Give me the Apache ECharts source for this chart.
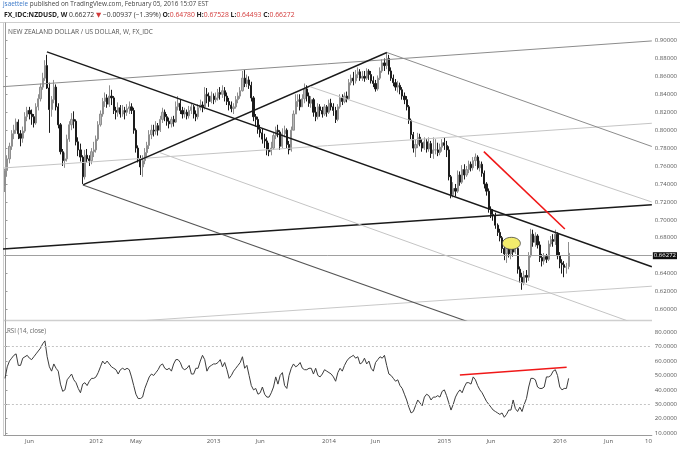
<!DOCTYPE html>
<html><head><meta charset="utf-8">
<script src="https://cdn.jsdelivr.net/npm/echarts@6/dist/echarts.min.js"></script>
<style>html,body{margin:0;padding:0;background:#fff}#c{width:680px;height:449px}</style>
</head><body><div id="c"></div>
<script>
// ---------- data ----------
const firstWeek = '2011-03-21';   // first weekly bar
const totalWeeks = 292;           // bars + empty future space on the axis
const firstOpen = 0.737;
const lastOpen = 0.6478;

const closes = [
0.755,0.768,0.782,0.796,0.800,0.809,0.796,0.791,0.799,0.815,
0.822,0.818,0.815,0.808,0.826,0.835,0.848,0.858,0.872,0.847,
0.823,0.834,0.848,0.826,0.806,0.776,0.766,0.768,0.790,0.806,
0.812,0.810,0.787,0.778,0.770,0.748,0.772,0.768,0.766,0.776,
0.778,0.790,0.806,0.818,0.832,0.836,0.829,0.838,0.836,0.822,
0.820,0.825,0.818,0.822,0.820,0.824,0.826,0.822,0.800,0.780,
0.768,0.759,0.766,0.775,0.783,0.795,0.800,0.799,0.805,0.800,
0.812,0.820,0.815,0.810,0.807,0.812,0.809,0.826,0.830,0.822,
0.818,0.820,0.816,0.822,0.826,0.818,0.815,0.825,0.828,0.826,
0.840,0.838,0.832,0.838,0.834,0.836,0.842,0.840,0.844,0.838,
0.832,0.828,0.824,0.826,0.834,0.838,0.844,0.858,0.852,0.856,
0.850,0.836,0.815,0.812,0.801,0.797,0.790,0.788,0.778,0.776,
0.780,0.794,0.800,0.798,0.782,0.796,0.800,0.784,0.778,0.800,
0.818,0.832,0.834,0.826,0.835,0.846,0.838,0.830,0.834,0.820,
0.815,0.826,0.822,0.818,0.826,0.820,0.830,0.826,0.822,0.812,
0.826,0.836,0.832,0.838,0.835,0.853,0.858,0.855,0.862,0.865,
0.858,0.860,0.858,0.866,0.862,0.855,0.852,0.846,0.858,0.866,
0.875,0.872,0.880,0.866,0.858,0.853,0.848,0.850,0.845,0.838,
0.834,0.826,0.811,0.795,0.780,0.784,0.792,0.786,0.780,0.787,
0.779,0.785,0.774,0.778,0.778,0.775,0.781,0.786,0.783,0.778,
0.748,0.728,0.735,0.732,0.750,0.742,0.756,0.750,0.756,0.762,
0.758,0.766,0.770,0.758,0.762,0.752,0.740,0.732,0.712,0.706,
0.705,0.694,0.686,0.680,0.668,0.662,0.668,0.662,0.670,0.664,
0.668,0.645,0.636,0.630,0.638,0.636,0.660,0.684,0.675,0.682,
0.672,0.658,0.654,0.659,0.656,0.673,0.678,0.676,0.684,0.660,
0.652,0.650,0.647,0.648,0.66272];

const highs = [
0.757,0.772,0.786,0.800,0.806,0.813,0.812,0.800,0.804,0.820,
0.826,0.826,0.823,0.818,0.830,0.840,0.852,0.864,0.878,0.884,
0.853,0.838,0.856,0.851,0.830,0.808,0.779,0.775,0.795,0.810,
0.819,0.821,0.812,0.792,0.785,0.772,0.778,0.779,0.772,0.780,
0.787,0.794,0.810,0.822,0.836,0.842,0.840,0.850,0.845,0.838,
0.826,0.831,0.828,0.828,0.826,0.829,0.832,0.830,0.825,0.802,
0.783,0.772,0.772,0.780,0.787,0.800,0.806,0.806,0.810,0.808,
0.816,0.825,0.823,0.818,0.814,0.815,0.816,0.832,0.838,0.834,
0.826,0.825,0.823,0.827,0.830,0.828,0.822,0.829,0.834,0.832,
0.848,0.847,0.842,0.843,0.841,0.842,0.846,0.848,0.850,0.848,
0.842,0.836,0.832,0.830,0.838,0.842,0.848,0.866,0.867,0.862,
0.860,0.854,0.838,0.818,0.815,0.806,0.802,0.796,0.792,0.786,
0.787,0.798,0.804,0.806,0.800,0.802,0.805,0.802,0.788,0.804,
0.822,0.840,0.840,0.840,0.840,0.852,0.850,0.842,0.838,0.836,
0.826,0.830,0.829,0.826,0.829,0.828,0.834,0.835,0.830,0.826,
0.829,0.840,0.840,0.842,0.843,0.857,0.862,0.865,0.867,0.870,
0.868,0.866,0.866,0.869,0.868,0.866,0.860,0.856,0.861,0.870,
0.879,0.880,0.886,0.884,0.870,0.862,0.857,0.855,0.853,0.848,
0.842,0.838,0.828,0.813,0.798,0.790,0.797,0.796,0.790,0.792,
0.790,0.792,0.788,0.792,0.790,0.786,0.785,0.790,0.792,0.788,
0.782,0.750,0.742,0.740,0.755,0.754,0.761,0.762,0.760,0.766,
0.765,0.770,0.774,0.772,0.766,0.765,0.755,0.742,0.735,0.715,
0.712,0.708,0.696,0.690,0.682,0.676,0.674,0.672,0.674,0.672,
0.673,0.670,0.648,0.641,0.643,0.644,0.664,0.690,0.689,0.686,
0.684,0.676,0.662,0.663,0.662,0.677,0.682,0.684,0.689,0.686,
0.664,0.656,0.654,0.652,0.67528];

const lows = [
0.731,0.748,0.763,0.778,0.790,0.796,0.790,0.782,0.786,0.797,
0.810,0.812,0.806,0.803,0.806,0.822,0.832,0.845,0.855,0.846,
0.797,0.815,0.830,0.822,0.802,0.773,0.760,0.758,0.765,0.787,
0.800,0.802,0.783,0.771,0.765,0.740,0.745,0.764,0.760,0.762,
0.770,0.775,0.788,0.804,0.815,0.826,0.825,0.826,0.828,0.818,
0.812,0.815,0.814,0.815,0.812,0.816,0.818,0.818,0.796,0.775,
0.764,0.750,0.748,0.762,0.770,0.779,0.790,0.793,0.795,0.794,
0.798,0.808,0.810,0.805,0.802,0.803,0.804,0.808,0.822,0.818,
0.813,0.814,0.812,0.813,0.818,0.813,0.810,0.812,0.822,0.820,
0.823,0.830,0.826,0.830,0.829,0.831,0.833,0.834,0.836,0.832,
0.828,0.822,0.820,0.818,0.824,0.830,0.835,0.843,0.848,0.848,
0.846,0.832,0.810,0.804,0.796,0.792,0.785,0.780,0.772,0.771,
0.772,0.778,0.790,0.792,0.778,0.780,0.792,0.780,0.773,0.776,
0.800,0.818,0.826,0.822,0.826,0.830,0.832,0.826,0.825,0.815,
0.810,0.812,0.815,0.814,0.816,0.815,0.818,0.822,0.816,0.808,
0.810,0.824,0.828,0.830,0.831,0.834,0.850,0.850,0.852,0.858,
0.855,0.855,0.854,0.856,0.856,0.852,0.848,0.843,0.844,0.856,
0.864,0.866,0.868,0.862,0.855,0.849,0.844,0.842,0.840,0.834,
0.829,0.822,0.807,0.790,0.775,0.770,0.780,0.782,0.776,0.778,
0.775,0.776,0.769,0.768,0.773,0.771,0.772,0.776,0.778,0.770,
0.744,0.724,0.725,0.726,0.730,0.738,0.740,0.745,0.748,0.752,
0.754,0.755,0.760,0.756,0.754,0.748,0.735,0.727,0.708,0.702,
0.699,0.690,0.682,0.676,0.663,0.655,0.652,0.658,0.656,0.659,
0.662,0.640,0.630,0.622,0.627,0.630,0.632,0.658,0.670,0.670,
0.668,0.653,0.648,0.650,0.652,0.654,0.670,0.670,0.672,0.656,
0.646,0.640,0.636,0.640,0.64493];

const rsi = [
48,56,60,62,64,65,57,57,62,63,
64,62,61,63,65,67,69,72,74,63,
56,53,58,55,53,44,39,40,47,49,
51,47,45,41,38,44,45,43,46,48,
48,49,52,56,60,58,60,58,56,55,
54,51,54,55,54,55,54,49,43,37,
34,34,35,41,45,49,51,50,52,54,
57,58,55,54,55,53,58,61,61,59,
55,54,55,57,51,51,55,55,60,64,
61,53,56,57,58,58,59,61,56,59,
54,48,50,53,55,57,59,63,55,57,
50,43,40,41,37,38,42,37,35,35,
38,42,49,44,50,52,43,41,50,55,
58,56,57,59,55,54,54,55,55,51,
55,50,49,51,54,53,52,51,49,46,
52,55,53,57,60,62,63,64,62,63,
58,59,62,58,60,55,53,59,61,63,
62,64,57,51,50,48,46,47,43,41,
37,33,28,24,25,29,33,31,29,35,
37,36,33,35,35,36,35,39,40,36,
31,26,30,35,38,40,38,42,45,45,
44,49,47,43,40,38,35,32,30,28,
26,25,24,23,24,21,23,26,26,33,
27,25,28,25,30,34,42,48,48,47,
42,41,41,42,49,49,50,53,54,50,
42,40,41,41,48];

const xTickDates = ['2011-06-06','2012-01-02','2012-05-07','2013-01-07','2013-06-03','2014-01-06','2014-06-02','2015-01-05','2015-06-01','2016-01-04','2016-06-06','2016-10-10'];
const xTickTexts = ['Jun','2012','May','2013','Jun','2014','Jun','2015','Jun','2016','Jun','10'];
const priceTicks = [0.60,0.62,0.64,0.66,0.68,0.70,0.72,0.74,0.76,0.78,0.80,0.82,0.84,0.86,0.88,0.90];
const rsiTicks = [10,20,30,40,50,60,70,80];
const rsiLevels = [70,30];

// drawn trend lines: [weekIndex, price]
const chanTop    = [[-0.9,0.8485],[291.5,0.8995]];
const chanMid    = [[-0.9,0.7578],[291.5,0.8077]];
const chanLow    = [[-0.9,0.6675],[291.5,0.7168]];
const chanBottom = [[-0.9,0.5770],[291.5,0.6260]];
const fall2011   = [[18.9,0.8872],[291.5,0.6477]];
const rise2011   = [[35.1,0.7389],[172.1,0.8866]];
const fall2011b  = [[35.1,0.7389],[291.5,0.5136]];
const fall2014   = [[172.1,0.8866],[291.5,0.7818]];
const fork2012   = [[69.8,0.7749],[291.5,0.5776]];
const fork2013   = [[137.4,0.8485],[291.5,0.7199]];
const redPrice   = [[215.8,0.7760],[252.3,0.6898]];
const redRsi     = [[205.0,50.35],[253.1,55.7]];
const highlight  = [[228.2,0.6738]];

// ---------- build ----------
const F = '"Open Sans","DejaVu Sans",sans-serif';
const pad = n => String(n).padStart(2,'0');
const categories = [];
const t0 = Date.parse(firstWeek + 'T00:00:00Z');
for (let i = 0; i < totalWeeks; i++) {
  const d = new Date(t0 + i * 7 * 86400000);
  categories.push(d.getUTCFullYear() + '-' + pad(d.getUTCMonth() + 1) + '-' + pad(d.getUTCDate()));
}
const tickMap = {};
xTickDates.forEach((d, k) => { const i = categories.indexOf(d); if (i >= 0) tickMap[i] = xTickTexts[k]; });

const candles = closes.map((c, i) => {
  const o = i === 0 ? firstOpen : (i === closes.length - 1 ? lastOpen : closes[i - 1]);
  return [o, c, Math.min(lows[i], o, c), Math.max(highs[i], o, c)];
});
const lastClose = closes[closes.length - 1];

function tline(data, color, width, xi, yi) {
  return {type:'line', xAxisIndex: xi, yAxisIndex: yi, data, symbol:'none', silent:true,
    clip:true, lineStyle:{color, width}, z:5, animation:false};
}

const chart = echarts.init(document.getElementById('c'), null, {renderer:'canvas'});
chart.setOption({
  animation:false,
  backgroundColor:'#fff',
  grid:[{left:3.9, right:28.1, top:23, height:297}, {left:3.9, right:28.1, top:321, height:114}],
  xAxis:[
    {type:'category', gridIndex:0, data:categories, boundaryGap:true, show:false},
    {type:'category', gridIndex:1, data:categories, boundaryGap:true,
      axisLine:{show:true, lineStyle:{color:'#9a9a9a', width:1}}, axisTick:{show:false},
      splitLine:{show:false},
      axisLabel:{interval:(i) => tickMap[i] !== undefined, formatter:(v, i) => tickMap[i] || '',
        fontSize:6, color:'#555', margin:3, fontFamily:F}},
    {type:'value', gridIndex:0, min:-0.5, max:totalWeeks - 0.5, show:false},
    {type:'value', gridIndex:1, min:-0.5, max:totalWeeks - 0.5, show:false}
  ],
  yAxis:[
    {type:'value', gridIndex:0, position:'right', min:0.5883, max:0.9195, scale:true,
      axisLine:{show:true, lineStyle:{color:'#9a9a9a'}},
      axisTick:{show:true, length:2.5, lineStyle:{color:'#9a9a9a'}, customValues:priceTicks},
      axisLabel:{customValues:priceTicks, formatter:v => v.toFixed(5), fontSize:6, color:'#555', margin:3, fontFamily:F},
      splitLine:{show:false}},
    {type:'value', gridIndex:1, position:'right', min:8.7, max:87.8,
      axisLine:{show:true, lineStyle:{color:'#9a9a9a'}},
      axisTick:{show:true, length:2.5, lineStyle:{color:'#9a9a9a'}, customValues:rsiTicks},
      axisLabel:{customValues:rsiTicks, formatter:v => v.toFixed(4), fontSize:6, color:'#555', margin:3, fontFamily:F},
      splitLine:{show:false}}
  ],
  series:[
    {type:'candlestick', xAxisIndex:0, yAxisIndex:0, data:candles, barWidth:'75%', barMaxWidth:2,
      itemStyle:{color:'#b8b8b8', color0:'#1c1c1c', borderColor:'#8e8e8e', borderColor0:'#1c1c1c', borderWidth:1},
      markLine:{silent:true, symbol:'none', animation:false,
        data:[{yAxis:lastClose}],
        lineStyle:{color:'#a0a0a0', width:1, type:'solid'},
        label:{position:'end', distance:1, formatter:lastClose.toFixed(5), color:'#fff',
          backgroundColor:'#111', padding:[1,1,0,1], fontSize:6, fontFamily:F}}},
    tline(chanTop, '#8c8c8c', 1, 2, 0),
    tline(chanMid, '#c4c4c4', 1, 2, 0),
    tline(chanLow, '#1a1a1a', 1.4, 2, 0),
    tline(chanBottom, '#c8c8c8', 1, 2, 0),
    tline(fall2011, '#1a1a1a', 1.4, 2, 0),
    tline(rise2011, '#1a1a1a', 1.4, 2, 0),
    tline(fall2011b, '#555', 1.1, 2, 0),
    tline(fall2014, '#8c8c8c', 1, 2, 0),
    tline(fork2012, '#c4c4c4', 1, 2, 0),
    tline(fork2013, '#c4c4c4', 1, 2, 0),
    tline(redPrice, '#f01818', 1.6, 2, 0),
    {type:'custom', xAxisIndex:2, yAxisIndex:0, data:highlight, silent:true, z:6,
      renderItem:(params, api) => {
        const p = api.coord([api.value(0), api.value(1)]);
        return {type:'ellipse', shape:{cx:p[0], cy:p[1], rx:9, ry:6},
          style:{fill:'#f3ec6c', stroke:'#444', lineWidth:0.8}};
      }},
    {type:'line', xAxisIndex:1, yAxisIndex:1, data:rsi, symbol:'none', silent:true,
      lineStyle:{color:'#3c3c3c', width:1},
      markLine:{silent:true, symbol:'none', animation:false, data:rsiLevels.map(v => ({yAxis:v})),
        lineStyle:{color:'#c4c4c4', width:1, type:[2,2]}, label:{show:false}}},
    tline(redRsi, '#f01818', 1.6, 3, 1)
  ],
  graphic:[
    {type:'line', silent:true, shape:{x1:0, y1:22.5, x2:680, y2:22.5}, style:{stroke:'#cfcfcf', lineWidth:1}},
    {type:'line', silent:true, shape:{x1:3.5, y1:22.5, x2:3.5, y2:435.5}, style:{stroke:'#cfcfcf', lineWidth:1}},
    {type:'line', silent:true, shape:{x1:3.5, y1:320.5, x2:652, y2:320.5}, style:{stroke:'#cfcfcf', lineWidth:1.6}},
    {type:'text', silent:true, left:3, top:1.5, style:{
      text:'{u|jsaettele}{g| published on TradingView.com, February 05, 2016 15:07 EST}',
      rich:{u:{fill:'#3a78c8', fontSize:6.4, fontFamily:F}, g:{fill:'#444', fontSize:6.4, fontFamily:F}}}},
    {type:'text', silent:true, left:4, top:11.5, style:{
      text:'{k|FX_IDC:NZDUSD, W}{v| 0.66272 }{r|\u25BC}{v| \u22120.00937 (\u22121.39%) }{k|O:}{r|0.64780}{k| H:}{r|0.67528}{k| L:}{r|0.64493}{k| C:}{r|0.66272}',
      rich:{k:{fill:'#222', fontSize:6.8, fontWeight:'bold', fontFamily:F},
            v:{fill:'#333', fontSize:6.8, fontFamily:F},
            r:{fill:'#d33a3a', fontSize:6.8, fontFamily:F}}}},
    {type:'text', silent:true, left:8, top:29, style:{text:'NEW ZEALAND DOLLAR / US DOLLAR, W, FX_IDC',
      fill:'#555', fontSize:6.5, fontFamily:F}},
    {type:'text', silent:true, left:7, top:328.5, style:{text:'RSI (14, close)', fill:'#666', fontSize:6.2, fontFamily:F}}
  ]
});
</script>
</body></html>
